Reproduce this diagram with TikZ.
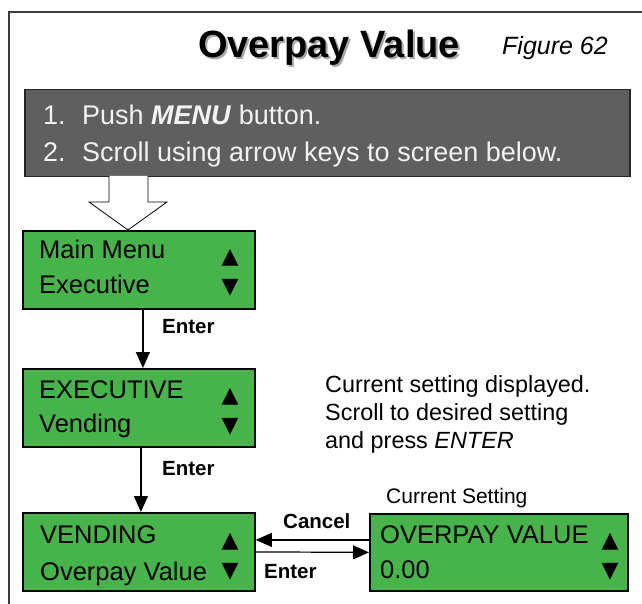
\documentclass[tikz,border=0pt]{standalone}
\usepackage{fontspec}
\setmainfont{Liberation Sans}
\newfontfamily\symfont{DejaVu Sans}
\usetikzlibrary{arrows.meta,calc}
\definecolor{lcdgreen}{RGB}{70,180,75}
\definecolor{panelgray}{RGB}{95,95,95}
\definecolor{framegray}{RGB}{60,60,60}
\begin{document}
\begin{tikzpicture}[x=1pt,y=-1pt,
  lcd/.style={draw=black, line width=1.8pt, fill=lcdgreen, anchor=north west, inner sep=0pt},
  lcdtxt/.style={anchor=base west, inner sep=0pt, font=\fontsize{25.5}{30}\selectfont},
  tri/.style={anchor=base, inner sep=0pt, font=\symfont\fontsize{22}{24}\selectfont},
  lbl/.style={anchor=base west, inner sep=0pt, font=\bfseries\fontsize{20.5}{24}\selectfont},
  note/.style={anchor=base west, inner sep=0pt, font=\fontsize{23.4}{28}\selectfont},
  paneltxt/.style={anchor=base west, inner sep=0pt, text=white!95!black, font=\fontsize{27}{32}\selectfont},
  arr/.style={line width=1.2pt, -{Triangle[length=16pt,width=14pt]}},
]
\useasboundingbox (0,0) rectangle (642,604);
% outer frame
\draw[line width=1.5pt, framegray] (9,604) -- (9,12) -- (642,12);
% title with shadow
\node (title) [anchor=base, inner sep=0pt, font=\bfseries\fontsize{38}{44}\selectfont] at (329,58)
  {\makebox[0pt][l]{\hspace{2pt}\raisebox{-2pt}{\textcolor{black!35}{Overpay Value}}}Overpay Value};
\node (fig) [anchor=base west, inner sep=0pt, font=\itshape\fontsize{25}{30}\selectfont] at (502,55) {Figure 62};
% instruction panel
\node (panel) [draw=black!85, line width=1.5pt, fill=panelgray, anchor=north west, minimum width=605pt, minimum height=87pt, inner sep=0pt] at (24,89) {};
\node (n1) [paneltxt] at (43,125) {1.};
\node (t1) [paneltxt] at (82,125) {Push \textbf{\textit{MENU}} button.};
\node (n2) [paneltxt] at (43,162) {2.};
\node (t2) [paneltxt] at (82,162) {Scroll using arrow keys to screen below.};
% hollow arrow
\coordinate (ha1) at (109,176);
\coordinate (ha2) at (109,202);
\coordinate (ha3) at (89,202);
\coordinate (hatip) at (128,230);
\coordinate (ha5) at (167,202);
\coordinate (ha6) at (148,202);
\coordinate (ha7) at (148,176);
\draw[fill=white, line width=0.8pt, line join=miter] (ha1) -- (ha2) -- (ha3) -- (hatip) -- (ha5) -- (ha6) -- (ha7);
% box 1
\node (b1) [lcd, minimum width=232pt, minimum height=78pt] at (22,230) {};
\node (b1a) [lcdtxt] at (39,258) {Main Menu};
\node (b1b) [lcdtxt] at (39,293) {Executive};
\node (b1u) [tri] at (230,263) {▲};
\node (b1d) [tri] at (230,293) {▼};
% box 2
\node (b2) [lcd, minimum width=232pt, minimum height=78pt] at (22,368) {};
\node (b2a) [lcdtxt] at (39,398) {EXECUTIVE};
\node (b2b) [lcdtxt] at (39,432) {Vending};
\node (b2u) [tri] at (230,402) {▲};
\node (b2d) [tri] at (230,432) {▼};
% box 3
\node (b3) [lcd, minimum width=232pt, minimum height=78pt] at (22,512) {};
\node (b3a) [lcdtxt] at (40,543) {VENDING};
\node (b3b) [lcdtxt] at (40,580) {Overpay Value};
\node (b3u) [tri] at (230,547) {▲};
\node (b3d) [tri] at (230,577) {▼};
% box 4
\node (b4) [lcd, minimum width=258pt, minimum height=77pt] at (369,513) {};
\node (b4a) [lcdtxt] at (380,543) {OVERPAY VALUE};
\node (b4b) [lcdtxt] at (380,578) {0.00};
\node (b4u) [tri] at (610,547) {▲};
\node (b4d) [tri] at (610,577) {▼};
% vertical arrows
\draw[arr] ([xshift=4pt]b1.south) -- ([xshift=4pt]b2.north);
\node (e1) [lbl] at (162,333) {Enter};
\draw[arr] ([xshift=2pt]b2.south) -- ([xshift=2pt]b3.north);
\node (e2) [lbl] at (162,475) {Enter};
% horizontal arrows
\draw[arr] ([yshift=12.5pt]b4.west) -- ([yshift=12pt]b3.east);
\draw[arr] (b3.east) -- (b4.west);
\node (cancel) [lbl] at (283,528) {Cancel};
\node (e3) [lbl] at (264,578) {Enter};
\node (cur) [anchor=base west, inner sep=0pt, font=\fontsize{21}{24}\selectfont] at (386,503) {Current Setting};
% note
\node (note1) [note] at (325,392) {Current setting displayed.};
\node (note2) [note] at (325,420) {Scroll to desired setting};
\node (note3) [note] at (325,448) {and press \textit{ENTER}};
\end{tikzpicture}
\end{document}
